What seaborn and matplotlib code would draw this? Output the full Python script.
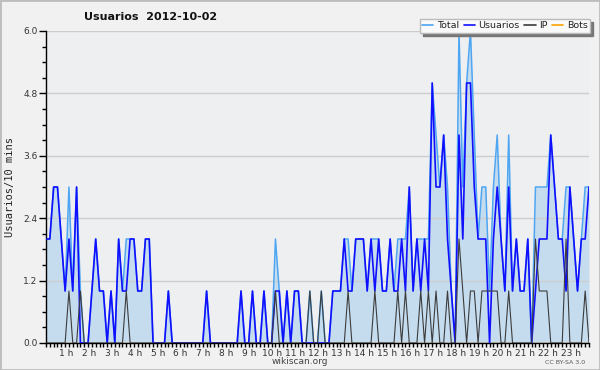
import numpy as np
import pandas as pd
import matplotlib
matplotlib.use("Agg")
import matplotlib.pyplot as plt
import matplotlib.transforms as mtransforms
from matplotlib import font_manager
from matplotlib.ticker import MultipleLocator
from matplotlib.lines import Line2D
from matplotlib.patches import Rectangle
import seaborn as sns

# values per 10-minute slot (one row per hour)
usuarios = [
    2, 2, 3, 3, 2, 1,
    2, 1, 3, 0, 0, 0,
    1, 2, 1, 1, 0, 1,
    0, 2, 1, 1, 2, 2,
    1, 1, 2, 2, 0, 0,
    0, 0, 1, 0, 0, 0,
    0, 0, 0, 0, 0, 0,
    1, 0, 0, 0, 0, 0,
    0, 0, 0, 1, 0, 0,
    1, 0, 0, 1, 0, 0,
    1, 1, 0, 1, 0, 1,
    1, 0, 0, 0, 0, 0,
    0, 0, 0, 1, 1, 1,
    2, 1, 1, 2, 2, 2,
    1, 2, 1, 2, 1, 1,
    2, 1, 1, 2, 1, 3,
    1, 2, 1, 2, 1, 5,
    3, 3, 4, 2, 1, 0,
    4, 2, 5, 5, 3, 2,
    2, 2, 0, 2, 3, 2,
    1, 3, 1, 2, 1, 1,
    2, 0, 1, 2, 2, 2,
    4, 3, 2, 2, 1, 3,
    2, 1, 2, 2, 3,
]
ip = [
    0, 0, 0, 0, 0, 0,
    1, 0, 0, 1, 0, 0,
    0, 0, 0, 0, 0, 0,
    0, 0, 0, 1, 0, 0,
    0, 0, 0, 0, 0, 0,
    0, 0, 0, 0, 0, 0,
    0, 0, 0, 0, 0, 0,
    0, 0, 0, 0, 0, 0,
    0, 0, 0, 0, 0, 0,
    0, 0, 0, 0, 0, 0,
    1, 0, 0, 0, 0, 0,
    0, 0, 0, 1, 0, 0,
    1, 0, 0, 0, 0, 0,
    0, 1, 0, 0, 0, 0,
    0, 0, 1, 0, 0, 0,
    0, 0, 1, 0, 1, 0,
    0, 0, 1, 0, 1, 0,
    1, 0, 0, 1, 0, 0,
    2, 1, 0, 1, 1, 0,
    1, 1, 1, 1, 1, 0,
    0, 1, 0, 0, 0, 0,
    0, 0, 2, 1, 1, 1,
    0, 0, 0, 0, 2, 0,
    0, 0, 0, 1, 0,
]
total = [
    2, 2, 3, 3, 2, 1,
    3, 1, 3, 1, 0, 0,
    1, 2, 1, 1, 0, 1,
    0, 2, 1, 2, 2, 2,
    1, 1, 2, 2, 0, 0,
    0, 0, 1, 0, 0, 0,
    0, 0, 0, 0, 0, 0,
    1, 0, 0, 0, 0, 0,
    0, 0, 0, 1, 0, 0,
    1, 0, 0, 1, 0, 0,
    2, 1, 0, 1, 0, 1,
    1, 0, 0, 1, 0, 0,
    1, 0, 0, 1, 1, 1,
    2, 2, 1, 2, 2, 2,
    1, 2, 2, 2, 1, 1,
    2, 1, 2, 2, 2, 3,
    1, 2, 2, 2, 2, 5,
    4, 3, 4, 3, 1, 0,
    6, 3, 5, 6, 4, 2,
    3, 3, 1, 3, 4, 2,
    1, 4, 1, 2, 1, 1,
    2, 0, 3, 3, 3, 3,
    4, 3, 2, 2, 3, 3,
    2, 1, 2, 3, 3,
]
bots = [0] * len(total)

hour_labels = ["%d h" % h for h in range(1, 24)]
y_ticks = [0.0, 1.2, 2.4, 3.6, 4.8, 6.0]
series_names = ["Total", "Usuarios", "IP", "Bots"]
series_colors = ["#4ea6f2", "#1010ff", "#3c3c3c", "#ffa200"]

slot = np.arange(len(total))
df = pd.DataFrame({"slot": slot, "Total": total, "Usuarios": usuarios,
                   "IP": ip, "Bots": bots})

sns.set_theme(style="white")
plt.rcParams["font.family"] = ["DejaVu Sans"]

available = {f.name for f in font_manager.fontManager.ttflist}
if "Liberation Sans Narrow" in available:
    narrow = ["Liberation Sans Narrow", "DejaVu Sans"]
    title_size, legend_size = 10.5, 8.5
else:
    narrow = ["DejaVu Sans"]
    title_size, legend_size = 8.0, 6.8

fig = plt.figure(figsize=(6, 3.7), dpi=100, facecolor="#f1f1f1")
ax = fig.add_axes([46 / 600, 27 / 370, (589 - 46) / 600, (343 - 31) / 370])
ax.set_facecolor("#eeeff1")

ax.fill_between(df["slot"], df["Total"], 0, color="#c5dcef", zorder=0.3, lw=0)
sns.lineplot(data=df, x="slot", y="Bots", color=series_colors[3], lw=1.0, ax=ax, zorder=1)
sns.lineplot(data=df, x="slot", y="Total", color=series_colors[0], lw=1.1, ax=ax, zorder=2)
sns.lineplot(data=df, x="slot", y="Usuarios", color=series_colors[1], lw=1.2, ax=ax, zorder=3)
sns.lineplot(data=df, x="slot", y="IP", color=series_colors[2], lw=0.8, ax=ax, zorder=4)

ax.set_xlim(0, len(total) - 1)
ax.set_ylim(0, 6.0)
ax.set_xlabel("")
ax.set_ylabel("")

ax.set_yticks(y_ticks)
ax.set_yticklabels(["%.1f" % v for v in y_ticks])
ax.yaxis.set_minor_locator(MultipleLocator(0.3))
ax.set_xticks([6 * h for h in range(1, 24)])
ax.set_xticklabels(hour_labels)
ax.xaxis.set_minor_locator(MultipleLocator(1))

ax.tick_params(axis="both", which="both", bottom=True, left=True, direction="out",
               color="black", labelcolor="#333333")
ax.tick_params(axis="y", which="major", length=5, width=1, labelsize=6.5, pad=1)
ax.tick_params(axis="y", which="minor", length=3, width=1)
ax.tick_params(axis="x", which="both", length=3, width=1, labelsize=6.5, pad=1)

offset = mtransforms.ScaledTranslation(-3 / 100, 0, fig.dpi_scale_trans)
for lab in ax.get_xticklabels():
    lab.set_transform(lab.get_transform() + offset)

for s in ["top", "right"]:
    ax.spines[s].set_visible(False)
for s in ["left", "bottom"]:
    ax.spines[s].set_color("black")
    ax.spines[s].set_linewidth(1)

ax.yaxis.grid(True, color="#cdcdcd", lw=1)
ax.set_axisbelow(True)

fig.text(151 / 600, 1 - 17 / 370, "Usuarios  2012-10-02", ha="center", va="center",
         fontsize=title_size, fontweight="bold", color="#111111", family=narrow)
fig.text(10 / 600, 1 - 187 / 370, "Usuarios/10 mins", rotation=90, ha="center",
         va="center", fontsize=7.5, family=["DejaVu Sans Mono"], color="#222222")
fig.text(300 / 600, 1 - 361 / 370, "wikiscan.org", ha="center", va="center",
         fontsize=6.5, color="#444444")
fig.text(565 / 600, 1 - 362 / 370, "CC BY-SA 3.0", ha="center", va="center",
         fontsize=4.5, color="#555555")

handles = [Line2D([0], [0], color=c, lw=1.2) for c in series_colors]
leg = fig.legend(handles, series_names, loc="upper right",
                 bbox_to_anchor=(590 / 600, 1 - 19 / 370), borderaxespad=0, ncol=4,
                 prop={"family": narrow, "size": legend_size},
                 frameon=True, fancybox=False,
                 shadow={"color": "#777777", "alpha": 1, "ox": 2.5, "oy": -2.5},
                 handlelength=1.2, handletextpad=0.35, columnspacing=0.5,
                 borderpad=0.25, edgecolor="#bbbbbb", facecolor="#f9f9f9",
                 framealpha=1)
for t in leg.get_texts():
    t.set_color("#222222")

fig.patches.append(Rectangle((0, 0), 1, 1, transform=fig.transFigure, fill=False,
                             edgecolor="#bdbdbd", lw=2))

fig.savefig("out.png", dpi=100, facecolor=fig.get_facecolor())
